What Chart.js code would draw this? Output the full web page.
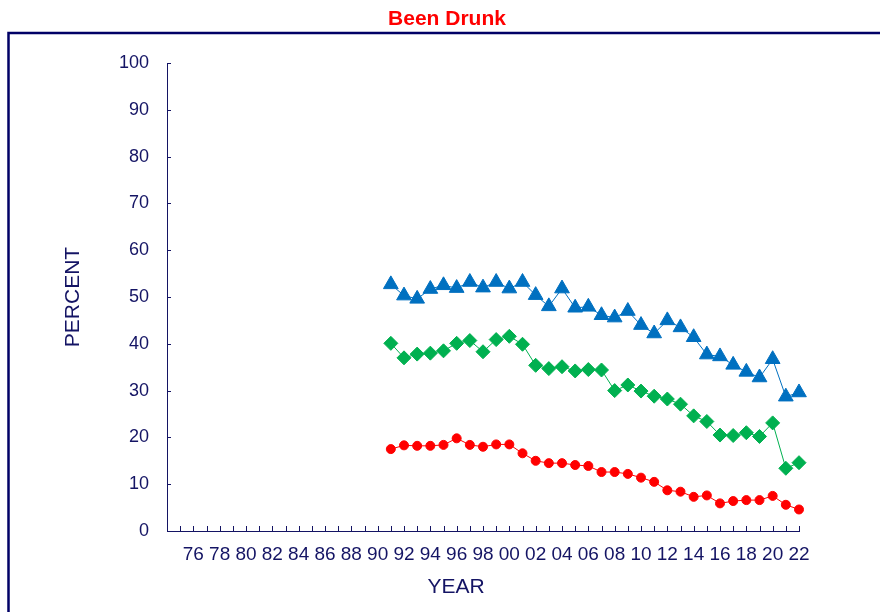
<!DOCTYPE html>
<html>
<head>
<meta charset="utf-8">
<script src="https://cdn.jsdelivr.net/npm/chart.js@4"></script>
<style>
  body { margin: 0; background: #fff; }
  canvas { display: block; }
</style>
</head>
<body>
<canvas id="graficoBeenDrunk" width="880" height="612"></canvas>
<script>
// anos e percentuais (8a, 10a e 12a series)
var anos = [1991, 1992, 1993, 1994, 1995, 1996, 1997, 1998, 1999, 2000,
            2001, 2002, 2003, 2004, 2005, 2006, 2007, 2008, 2009, 2010,
            2011, 2012, 2013, 2014, 2015, 2016, 2017, 2018, 2019, 2020,
            2021, 2022];
var serie12 = [52.7, 50.3, 49.6, 51.7, 52.5, 51.9, 53.2, 52.0, 53.2, 51.8,
               53.2, 50.4, 48.0, 51.8, 47.7, 47.9, 46.1, 45.6, 47.0, 44.0,
               42.2, 45.0, 43.5, 41.4, 37.7, 37.3, 35.5, 34.0, 32.8, 36.7,
               28.7, 29.6];
var serie10 = [40.1, 37.0, 37.8, 38.0, 38.5, 40.1, 40.7, 38.3, 40.9, 41.6,
               39.9, 35.4, 34.7, 35.1, 34.2, 34.5, 34.4, 30.0, 31.2, 29.9,
               28.8, 28.2, 27.1, 24.6, 23.4, 20.5, 20.4, 21.0, 20.2, 23.1,
               13.4, 14.6];
var serie8 = [17.5, 18.3, 18.2, 18.2, 18.4, 19.8, 18.4, 18.0, 18.5, 18.5,
              16.6, 15.0, 14.5, 14.5, 14.1, 13.9, 12.6, 12.6, 12.2, 11.4,
              10.5, 8.7, 8.4, 7.3, 7.6, 5.9, 6.4, 6.6, 6.6, 7.5,
              5.6, 4.6];
var anoMin = 1974, anoMax = 2022;
var primeiroRotulo = 1976;

var azulEscuro = '#141464';
var fonte = "'Liberation Sans', Arial, sans-serif";

function pontos(valores) {
    return anos.map(function (a, i) { return { x: a, y: valores[i] }; });
}

// moldura, tracinhos para dentro e titulo YEAR
var extras = {
    id: 'extras',
    afterDraw: function (chart) {
        var ctx = chart.ctx;
        var x = chart.scales.x, y = chart.scales.y;
        var area = chart.chartArea;
        ctx.save();
        ctx.strokeStyle = '#000066';
        ctx.lineWidth = 2.5;
        ctx.strokeRect(8.5, 33, 1000, 1000);

        ctx.strokeStyle = azulEscuro;
        ctx.lineWidth = 1;
        ctx.beginPath();
        for (var v = 0; v <= 100; v += 10) {
            var py = Math.round(y.getPixelForValue(v)) + 0.5;
            ctx.moveTo(area.left, py);
            ctx.lineTo(area.left + 4, py);
        }
        for (var a = anoMin + 1; a <= anoMax; a++) {
            var px = Math.round(x.getPixelForValue(a)) + 0.5;
            ctx.moveTo(px, area.bottom);
            ctx.lineTo(px, area.bottom - 5);
        }
        ctx.stroke();

        ctx.fillStyle = azulEscuro;
        ctx.font = '21px ' + fonte;
        ctx.textAlign = 'center';
        ctx.textBaseline = 'middle';
        ctx.fillText('YEAR', 456, 587);
        ctx.restore();
    }
};

var ctx = document.getElementById('graficoBeenDrunk').getContext('2d');
var grafico = new Chart(ctx, {
    type: 'line',
    data: {
        datasets: [{
            label: '12th Grade',
            data: pontos(serie12),
            borderColor: '#0070C0',
            backgroundColor: '#0070C0',
            borderWidth: 1,
            pointStyle: 'triangle',
            pointRadius: 8.5,
            pointBorderWidth: 1,
            clip: false
        }, {
            label: '10th Grade',
            data: pontos(serie10),
            borderColor: '#00B050',
            backgroundColor: '#00B050',
            borderWidth: 1,
            pointStyle: 'rectRot',
            pointRadius: 7,
            pointBorderWidth: 1,
            clip: false
        }, {
            label: '8th Grade',
            data: pontos(serie8),
            borderColor: '#FF0000',
            backgroundColor: '#FF0000',
            borderWidth: 1,
            pointStyle: 'circle',
            pointRadius: 4.5,
            pointBorderWidth: 1,
            clip: false
        }]
    },
    options: {
        responsive: false,
        animation: false,
        devicePixelRatio: 1,
        layout: { padding: { left: 14, right: 0, top: 0, bottom: 0 } },
        plugins: {
            legend: { display: false },
            tooltip: { enabled: false },
            title: {
                display: true,
                text: 'Been Drunk',
                color: '#FF0000',
                font: { family: fonte, size: 21, weight: 'bold' },
                padding: { top: 7, bottom: 30.8 }
            }
        },
        scales: {
            x: {
                type: 'linear',
                min: anoMin,
                max: anoMax,
                afterFit: function (s) { s.height = 81; },
                grid: { display: false, drawTicks: false },
                border: { display: true, color: azulEscuro, width: 1 },
                ticks: {
                    stepSize: 1,
                    autoSkip: false,
                    maxRotation: 0,
                    padding: 12,
                    color: azulEscuro,
                    font: { family: fonte, size: 19 },
                    callback: function (v) {
                        return (v % 2 === 0 && v >= primeiroRotulo) ? String(v).slice(-2) : '';
                    }
                }
            },
            y: {
                min: 0,
                max: 100,
                afterFit: function (s) { s.width = 153; },
                grid: { display: false, drawTicks: false },
                border: { display: true, color: azulEscuro, width: 1 },
                title: {
                    display: true,
                    text: 'PERCENT',
                    color: azulEscuro,
                    font: { family: fonte, size: 21 },
                    padding: { top: 47, bottom: 0 }
                },
                ticks: {
                    stepSize: 10,
                    padding: 18,
                    color: azulEscuro,
                    font: { family: fonte, size: 18 }
                }
            },
            // eixo vazio so para reservar o espaco da direita
            direita: {
                position: 'right',
                min: 0,
                max: 100,
                afterFit: function (s) { s.width = 81; },
                grid: { display: false, drawTicks: false },
                border: { display: false },
                ticks: { display: false }
            }
        }
    },
    plugins: [extras]
});
</script>
</body>
</html>
